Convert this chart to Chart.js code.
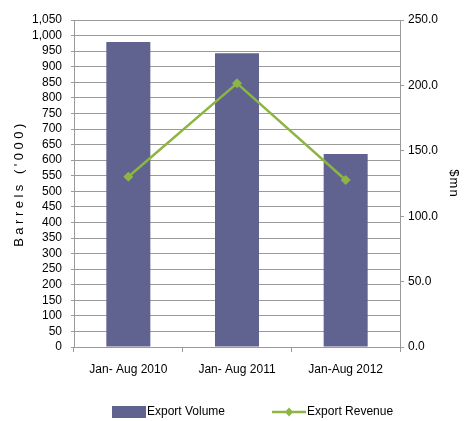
<!DOCTYPE html>
<html>
<head>
<meta charset="utf-8">
<script src="https://cdn.jsdelivr.net/npm/chart.js@4"></script>
<style>
  html, body { margin: 0; padding: 0; background: #fff; }
</style>
</head>
<body>
<canvas id="chart" width="470" height="421"></canvas>
<script>
// ===== data =====
const categories = ["Jan- Aug 2010", "Jan- Aug 2011", "Jan-Aug 2012"];
const exportVolume = [979, 943, 620];        // barrels ('000)
const exportRevenue = [130.2, 201.6, 127.7]; // $mn

const FONT = "'Liberation Sans', Arial, sans-serif";
const BAR_COLOR = "#606290";
const LINE_COLOR = "#8db544";
const GRID = "#9a9a9a";

// spaced-out axis titles, like the original
const spacedTitle = {
  id: "spacedTitle",
  beforeDraw(chart) {
    [["y", "3.5px"], ["y1", "1px"]].forEach(([id, sp]) => {
      const s = chart.scales[id];
      if (s._patched) return;
      const orig = s.drawTitle;
      s.drawTitle = function () {
        chart.ctx.save();
        chart.ctx.letterSpacing = sp;
        orig.call(this);
        chart.ctx.restore();
      };
      s._patched = true;
    });
  }
};

// legend drawn under the axis labels
const bottomLegend = {
  id: "bottomLegend",
  afterDraw(chart) {
    const ctx = chart.ctx;
    const bar = chart.data.datasets.find(d => d.type === "bar");
    const line = chart.data.datasets.find(d => d.type === "line");
    const y = 412;
    ctx.save();
    ctx.font = "12px " + FONT;
    ctx.textBaseline = "middle";
    ctx.textAlign = "left";

    let x = 112;
    ctx.fillStyle = bar.backgroundColor;
    ctx.fillRect(x, y - 6, 34, 12);
    ctx.fillStyle = "#000";
    ctx.fillText(bar.label, x + 35, y);
    x += 35 + ctx.measureText(bar.label).width + 47;

    ctx.strokeStyle = line.borderColor;
    ctx.lineWidth = 2.5;
    ctx.beginPath();
    ctx.moveTo(x, y);
    ctx.lineTo(x + 34, y);
    ctx.stroke();
    ctx.fillStyle = line.borderColor;
    ctx.beginPath();
    ctx.moveTo(x + 17, y - 4.5);
    ctx.lineTo(x + 21, y);
    ctx.lineTo(x + 17, y + 4.5);
    ctx.lineTo(x + 13, y);
    ctx.closePath();
    ctx.fill();
    ctx.fillStyle = "#000";
    ctx.fillText(line.label, x + 35, y);
    ctx.restore();
  }
};

new Chart(document.getElementById("chart"), {
  data: {
    labels: categories,
    datasets: [
      {
        type: "line",
        label: "Export Revenue",
        data: exportRevenue,
        yAxisID: "y1",
        borderColor: LINE_COLOR,
        backgroundColor: LINE_COLOR,
        borderWidth: 2.5,
        pointStyle: "rectRot",
        pointRadius: 5,
        pointBorderWidth: 0,
        tension: 0,
        order: 0
      },
      {
        type: "bar",
        label: "Export Volume",
        data: exportVolume,
        yAxisID: "y",
        backgroundColor: BAR_COLOR,
        barPercentage: 0.405,
        categoryPercentage: 1,
        order: 1
      }
    ]
  },
  options: {
    responsive: false,
    animation: false,
    layout: { padding: { left: 0, right: 0, top: 20, bottom: 34 } },
    plugins: {
      legend: { display: false },
      tooltip: { enabled: false }
    },
    scales: {
      x: {
        offset: true,
        grid: {
          offset: true,
          drawOnChartArea: false,
          drawTicks: true,
          tickLength: 5,
          color: GRID
        },
        border: { color: GRID },
        ticks: {
          color: "#000",
          padding: 10,
          maxRotation: 0,
          font: { family: FONT, size: 12 }
        },
        afterFit(s) { s.height = 40; }
      },
      y: {
        position: "left",
        min: 0,
        max: 1050,
        grid: { color: GRID, tickLength: 3 },
        border: { color: GRID },
        ticks: {
          stepSize: 50,
          color: "#000",
          padding: 9,
          autoSkip: false,
          font: { family: FONT, size: 12 },
          callback: v => v.toLocaleString("en-US")
        },
        title: {
          display: true,
          text: "Barrels ('000)",
          color: "#000",
          padding: { top: 12, bottom: 0 },
          font: { family: FONT, size: 13 }
        },
        afterFit(s) { s.width = 74; }
      },
      y1: {
        position: "right",
        min: 0,
        max: 250,
        grid: { drawOnChartArea: false, color: GRID, tickLength: 4 },
        border: { color: GRID },
        ticks: {
          stepSize: 50,
          color: "#000",
          padding: 4,
          font: { family: FONT, size: 12 },
          callback: v => v.toFixed(1)
        },
        title: {
          display: true,
          text: "$mn",
          color: "#000",
          padding: { top: 9, bottom: 0 },
          font: { family: FONT, size: 13 }
        },
        afterFit(s) { s.width = 70; }
      }
    }
  },
  plugins: [spacedTitle, bottomLegend]
});
</script>
</body>
</html>
